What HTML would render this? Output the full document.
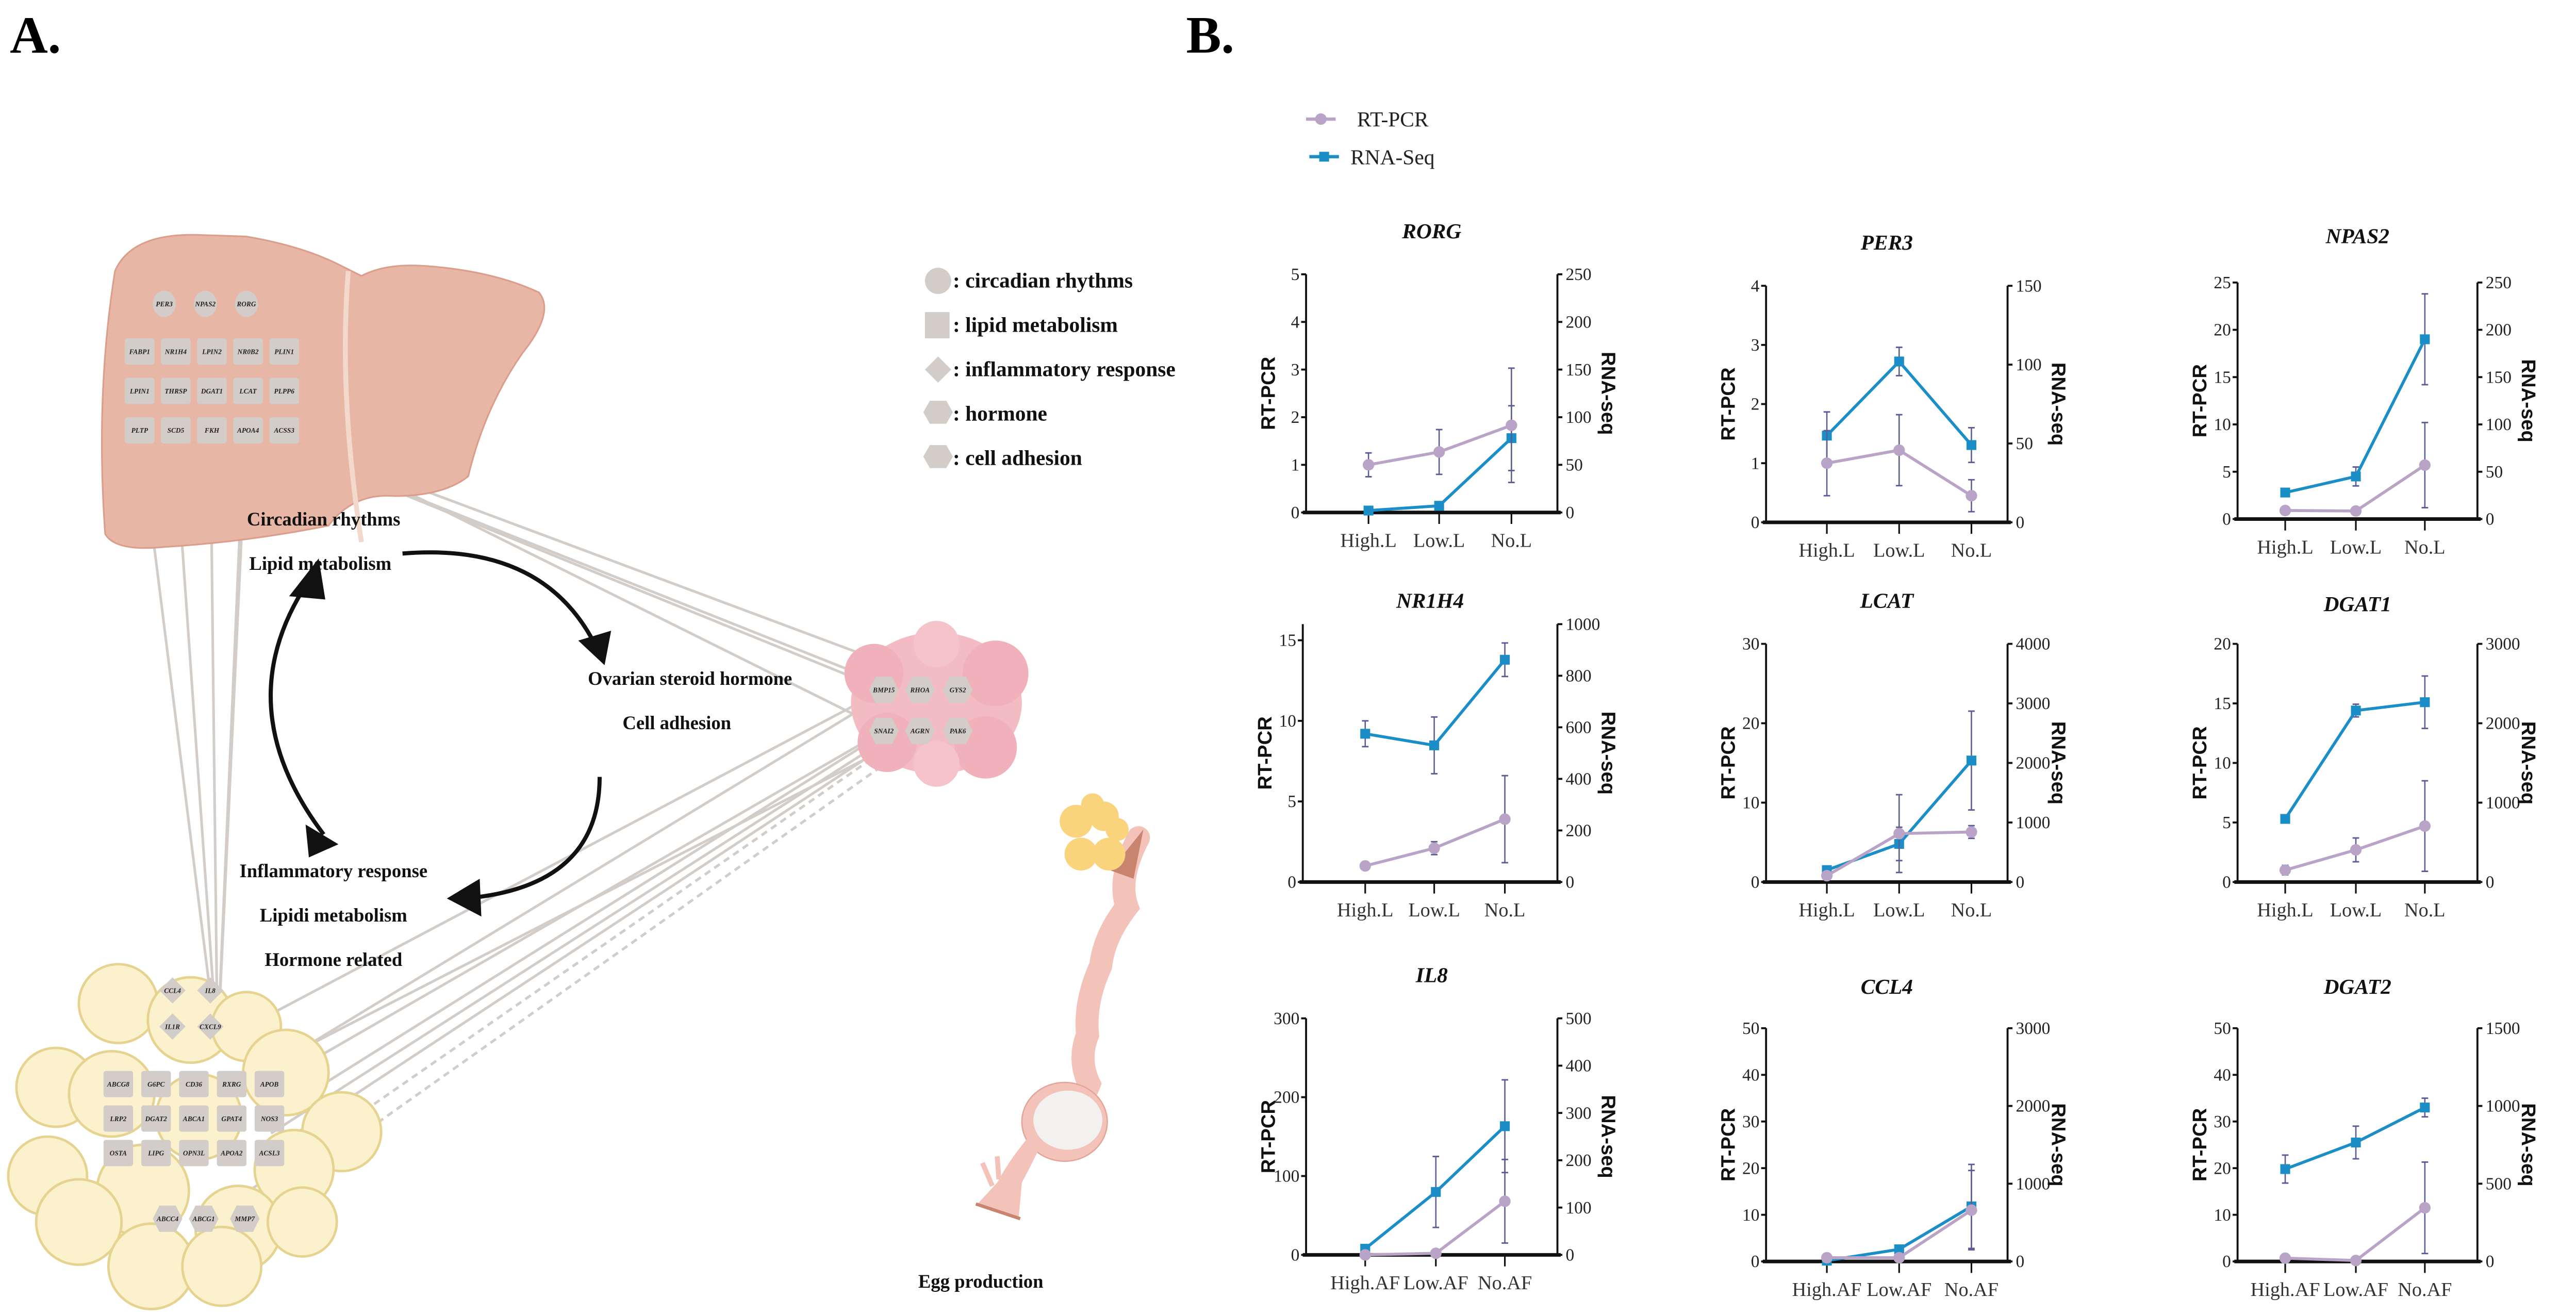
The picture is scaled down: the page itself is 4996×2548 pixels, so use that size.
<!DOCTYPE html>
<html><head><meta charset="utf-8">
<style>
html,body{margin:0;padding:0;background:#fff;}
svg{display:block;}
.tk{font-family:"Liberation Serif",serif;font-size:10.5px;fill:#222;}
.cat{font-family:"Liberation Serif",serif;font-size:12px;fill:#333;}
.ttl{font-family:"Liberation Serif",serif;font-size:13px;font-style:italic;font-weight:bold;fill:#111;}
.ax{font-family:"Liberation Sans",sans-serif;font-size:12px;font-weight:bold;fill:#111;}
.lab{font-family:"Liberation Serif",serif;font-size:11.5px;font-weight:bold;fill:#111;}
.leg{font-family:"Liberation Serif",serif;font-size:13px;font-weight:bold;fill:#111;}
.g{font-family:"Liberation Serif",serif;font-size:4.2px;font-style:italic;font-weight:bold;fill:#222;}
</style></head>
<body>
<svg id="fig" width="4996" height="2548" viewBox="0 0 1568 800" preserveAspectRatio="none" xmlns="http://www.w3.org/2000/svg">
<rect width="1568" height="800" fill="#fff"/>
<text x="6" y="32" font-family="Liberation Serif,serif" font-weight="bold" font-size="32">A.</text>
<text x="722" y="32" font-family="Liberation Serif,serif" font-weight="bold" font-size="32">B.</text>

<g id="panelA">
  <g id="links" stroke="#d3cdc9" stroke-width="1.6" fill="none"></g>
  <path d="M70,165 Q80,142 120,143 L150,144 Q185,150 208,162 L220,168 Q235,160 260,162 Q300,165 328,178 Q338,190 318,215 Q295,248 285,290 Q270,302 240,302 Q215,300 200,320 Q150,330 100,333 Q70,336 64,325 Q58,240 70,165 Z" fill="#e8b6a4" stroke="#dc9e8c" stroke-width="1"/>
  <path d="M212,165 Q206,240 220,330" stroke="#f3d9cc" stroke-width="3" fill="none"/>
  <g>
    <path d="M520,410 Q545,395 560,390 L540,415 Z" fill="#f4c9a8"/>
    <ellipse cx="570" cy="428" rx="52" ry="43" fill="#f3bcc3"/>
    <circle cx="532" cy="410" r="18" fill="#f1b1ba"/><circle cx="606" cy="410" r="20" fill="#f1b1ba"/>
    <circle cx="540" cy="452" r="18" fill="#f1b1ba"/><circle cx="600" cy="455" r="19" fill="#f1b1ba"/>
    <circle cx="570" cy="392" r="14" fill="#f5c4cb"/><circle cx="570" cy="465" r="14" fill="#f5c4cb"/>
  </g>
  <g id="fat"></g>
  <g>
    <path d="M693,510 Q680,535 686,552 Q672,570 670,588 Q660,610 662,630 Q656,645 663,660 Q660,668 655,672" fill="none" stroke="#f3c3b9" stroke-width="14" stroke-linecap="round"/>
    <polygon points="676,530 696,505 690,535" fill="#c98470"/>
    <ellipse cx="648" cy="683" rx="26" ry="24" fill="#f3c3b9" stroke="#e2a597" stroke-width="0.8"/>
    <ellipse cx="650" cy="682" rx="21" ry="18" fill="#f2f1ef"/>
    <path d="M628,690 Q615,705 607,720 L595,733 L620,742 L622,720 Q630,705 633,698 Z" fill="#f3c3b9"/>
    <line x1="594" y1="733" x2="621" y2="742" stroke="#c98470" stroke-width="2"/>
    <path d="M604,722 L598,708 M608,718 L607,704" stroke="#f3c3b9" stroke-width="3" fill="none"/>
    <g fill="#f9d47c">
      <circle cx="655" cy="500" r="10"/><circle cx="672" cy="497" r="9"/><circle cx="658" cy="520" r="10"/><circle cx="675" cy="520" r="10"/><circle cx="665" cy="490" r="7"/><circle cx="680" cy="505" r="7"/>
    </g>
  </g>
  <g id="genes"></g>
  <g fill="none" stroke="#111" stroke-width="2.5">
    <path d="M245,337 Q330,330 362,392"/>
    <path d="M365,473 Q365,540 283,547"/>
    <path d="M187,355 Q138,430 197,508"/>
  </g>
  <g fill="#111">
    <polygon points="352,390 372,384 368,405"/>
    <polygon points="272,547 292,535 293,558"/>
    <polygon points="176,363 194,340 198,365"/>
    <polygon points="186,502 206,514 188,522"/>
  </g>
  <text class="lab" x="197" y="320" text-anchor="middle">Circadian rhythms</text>
  <text class="lab" x="195" y="347" text-anchor="middle">Lipid metabolism</text>
  <text class="lab" x="420" y="417" text-anchor="middle">Ovarian steroid hormone</text>
  <text class="lab" x="412" y="444" text-anchor="middle">Cell adhesion</text>
  <text class="lab" x="203" y="534" text-anchor="middle">Inflammatory response</text>
  <text class="lab" x="203" y="561" text-anchor="middle">Lipidi metabolism</text>
  <text class="lab" x="203" y="588" text-anchor="middle">Hormone related</text>
  <text class="lab" x="597" y="784" text-anchor="middle">Egg production</text>
  <g fill="#d3cdc9">
    <circle cx="571" cy="171" r="8"/>
    <rect x="563" y="190" width="15" height="16"/>
    <polygon points="571,217 579,225 571,233 563,225"/>
    <polygon points="566,244 576,244 580,251 576,258 566,258 562,251"/>
    <polygon points="566,271 576,271 580,278 576,285 566,285 562,278"/>
  </g>
  <text class="leg" x="580" y="175">: circadian rhythms</text>
  <text class="leg" x="580" y="202">: lipid metabolism</text>
  <text class="leg" x="580" y="229">: inflammatory response</text>
  <text class="leg" x="580" y="256">: hormone</text>
  <text class="leg" x="580" y="283">: cell adhesion</text>
</g>

<g id="legendB">
  <line x1="795" y1="72.5" x2="813" y2="72.5" stroke="#b9a3c6" stroke-width="2"/>
  <circle cx="804" cy="72.5" r="3.5" fill="#b9a3c6"/>
  <text x="826" y="77" font-family="Liberation Serif,serif" font-size="13" fill="#222">RT-PCR</text>
  <line x1="797" y1="95.4" x2="815" y2="95.4" stroke="#1b8ec8" stroke-width="2"/>
  <rect x="803" y="92.4" width="6" height="6" fill="#1b8ec8"/>
  <text x="822" y="100" font-family="Liberation Serif,serif" font-size="13" fill="#222">RNA-Seq</text>
</g>
<g id="charts"></g>
</svg>
<script>
// ---------- Chart data ----------
const geneNames = ["RORG","PER3","NPAS2","NR1H4","LCAT","DGAT1","IL8","CCL4","DGAT2"];
const catsL = ["High.L","Low.L","No.L"];
const catsAF = ["High.AF","Low.AF","No.AF"];
const rtVals = [[1.0,1.27,1.83],[1.0,1.22,0.45],[0.9,0.85,5.7],[1.0,2.1,3.9],[0.8,6.1,6.3],[1.0,2.7,4.7],[0,2,68],[0.8,0.8,11],[0.7,0.2,11.5]];
const rtErr = [[0.25,0.47,1.2],[0.55,0.6,0.27],[0.3,0.3,4.5],[0.2,0.4,2.7],[0.3,4.9,0.8],[0.4,1.0,3.8],[0,0,53],[0,0,8.5],[0,0,9.8]];
const seqVals = [[2,7,78],[55,102,49],[28,45,190],[575,530,862],[200,640,2040],[795,2160,2265],[13,133,272],[10,156,708],[594,765,990]];
const seqErr = [[0,0,34],[15,9,11],[3,10,48],[50,110,65],[0,280,830],[0,80,330],[0,75,98],[0,0,540],[90,105,60]];
const leftTicks = [[0,1,2,3,4,5],[0,1,2,3,4],[0,5,10,15,20,25],[0,5,10,15],[0,10,20,30],[0,5,10,15,20],[0,100,200,300],[0,10,20,30,40,50],[0,10,20,30,40,50]];
const rightTicks = [[0,50,100,150,200,250],[0,50,100,150],[0,50,100,150,200,250],[0,200,400,600,800,1000],[0,1000,2000,3000,4000],[0,1000,2000,3000],[0,100,200,300,400,500],[0,1000,2000,3000],[0,500,1000,1500]];
const leftMax = [5,4,25,16,30,20,300,50,50];
const rightMax = [250,150,250,1000,4000,3000,500,3000,1500];

const geo = [
 {lx:795,rx:948,top:167,bot:312,cx:[833,876,920],ty:145},
 {lx:1075,rx:1222,top:174,bot:318,cx:[1112,1156,1200],ty:152},
 {lx:1362,rx:1508,top:172,bot:316,cx:[1391,1434,1476],ty:148},
 {lx:793,rx:948,top:380,bot:537,cx:[831,873,916],ty:370},
 {lx:1075,rx:1222,top:392,bot:537,cx:[1112,1156,1200],ty:370},
 {lx:1362,rx:1508,top:392,bot:537,cx:[1391,1434,1476],ty:372},
 {lx:795,rx:948,top:620,bot:764,cx:[831,874,916],ty:598},
 {lx:1075,rx:1222,top:626,bot:768,cx:[1112,1156,1200],ty:605},
 {lx:1362,rx:1508,top:626,bot:768,cx:[1391,1434,1476],ty:605}
];
const NS="http://www.w3.org/2000/svg";
function mk(tag,attrs,parent){const e=document.createElementNS(NS,tag);for(const k in attrs)e.setAttribute(k,attrs[k]);if(parent)parent.appendChild(e);return e;}
const charts=document.getElementById('charts');
geneNames.forEach((name,i)=>{
  const g=geo[i];
  const grp=mk('g',{},charts);
  
  
  const yL=v=>g.bot-(v/leftMax[i])*(g.bot-g.top);
  const yR=v=>g.bot-(v/rightMax[i])*(g.bot-g.top);
  const t=mk('text',{x:(g.lx+g.rx)/2,y:g.ty,'text-anchor':'middle',class:'ttl'},grp);t.textContent=name;
  
  
  const al=mk('line',{x1:g.lx,y1:g.top,x2:g.lx,y2:g.bot,stroke:'#111','stroke-width':1.2},grp);
  
  
  const ar=mk('line',{x1:g.rx,y1:g.top,x2:g.rx,y2:g.bot,stroke:'#111','stroke-width':1.2},grp);
  
  
  const ax=mk('line',{x1:g.lx-2,y1:g.bot,x2:g.rx+2,y2:g.bot,stroke:'#111','stroke-width':2.2},grp);
  
  
  leftTicks[i].forEach(v=>{const y=yL(v);mk('line',{x1:g.lx-3,y1:y,x2:g.lx,y2:y,stroke:'#111','stroke-width':1.2},grp);
    const tt=mk('text',{x:g.lx-4,y:y+3.5,'text-anchor':'end',class:'tk'},grp);tt.textContent=v;});
  rightTicks[i].forEach(v=>{const y=yR(v);mk('line',{x1:g.rx,y1:y,x2:g.rx+3,y2:y,stroke:'#111','stroke-width':1.2},grp);
    const tt=mk('text',{x:g.rx+5,y:y+3.5,'text-anchor':'start',class:'tk'},grp);tt.textContent=v;});
  const cats=i>=6?catsAF:catsL;
  cats.forEach((c,j)=>{mk('line',{x1:g.cx[j],y1:g.bot,x2:g.cx[j],y2:g.bot+7,stroke:'#111','stroke-width':1},grp);
    const ct=mk('text',{x:g.cx[j],y:g.bot+21,'text-anchor':'middle',class:'cat'},grp);ct.textContent=c;
    
    });
  const ym=(g.top+g.bot)/2;
  const l1=mk('text',{x:0,y:0,'text-anchor':'middle',class:'ax',transform:`translate(${g.lx-19},${ym}) rotate(-90)`},grp);l1.textContent='RT-PCR';
  
  
  const l2=mk('text',{x:0,y:0,'text-anchor':'middle',class:'ax',transform:`translate(${g.rx+27},${ym}) rotate(90)`},grp);l2.textContent='RNA-seq';
  
  
  const series=[{vals:seqVals[i],err:seqErr[i],f:yR,col:'#1b8ec8',sq:true,nm:'rna-seq'},{vals:rtVals[i],err:rtErr[i],f:yL,col:'#b9a3c6',sq:false,nm:'rt-pcr'}];
  series.forEach(s=>{
    const pts=s.vals.map((v,j)=>g.cx[j]+','+s.f(v)).join(' ');
    s.vals.forEach((v,j)=>{ if(s.err[j]>0){const x=g.cx[j],y1=s.f(v+s.err[j]),y2=s.f(Math.max(0,v-s.err[j]));
      mk('line',{x1:x,y1:y1,x2:x,y2:y2,stroke:'#5b5b95','stroke-width':0.8},grp);
      mk('line',{x1:x-2,y1:y1,x2:x+2,y2:y1,stroke:'#5b5b95','stroke-width':0.9},grp);
      mk('line',{x1:x-2,y1:y2,x2:x+2,y2:y2,stroke:'#5b5b95','stroke-width':0.9},grp);}});
    const pl=mk('polyline',{points:pts,fill:'none',stroke:s.col,'stroke-width':1.8},grp);
    
    
    s.vals.forEach((v,j)=>{const x=g.cx[j],y=s.f(v);let m;
      if(s.sq)m=mk('rect',{x:x-3,y:y-3,width:6,height:6,fill:s.col},grp);
      else m=mk('circle',{cx:x,cy:y,r:3.5,fill:s.col},grp);
      
      });
  });
});

// ---------- Panel A decorative nodes ----------
const fat=document.getElementById('fat');
const cells=[[72,611,24],[116,621,26],[150,625,21],[174,653,26],[34,662,24],[68,666,26],[121,680,26],[208,689,24],[29,716,24],[179,712,24],[87,725,28],[48,744,26],[145,748,26],[92,771,26],[135,771,24],[184,744,21]];
cells.forEach(c=>{mk('circle',{cx:c[0],cy:c[1],r:c[2],fill:'#fbf1cc',stroke:'#e6d38f','stroke-width':1.5},fat);});
const genes=document.getElementById('genes');
const links=document.getElementById('links');
function node(type,x,y,label){const grp=mk('g',{},genes);
  
  
  if(type==='c')mk('ellipse',{cx:x,cy:y,rx:7,ry:8,fill:'#d3cdc9'},grp);
  else if(type==='s')mk('rect',{x:x-9,y:y-8,width:18,height:16,rx:1.5,fill:'#d3cdc9'},grp);
  else if(type==='d')mk('polygon',{points:`${x},${y-8} ${x+8},${y} ${x},${y+8} ${x-8},${y}`,fill:'#d3cdc9'},grp);
  else mk('polygon',{points:`${x-5},${y-8} ${x+5},${y-8} ${x+9},${y} ${x+5},${y+8} ${x-5},${y+8} ${x-9},${y}`,fill:'#d3cdc9'},grp);
  const t=mk('text',{x:x,y:y+1.5,'text-anchor':'middle',class:'g'},grp);t.textContent=label;}
node('c',100,185,'PER3');node('c',125,185,'NPAS2');node('c',150,185,'RORG');
[['FABP1','NR1H4','LPIN2','NR0B2','PLIN1'],['LPIN1','THRSP','DGAT1','LCAT','PLPP6'],['PLTP','SCD5','FKH','APOA4','ACSS3']].forEach((r,ri)=>r.forEach((n,ci)=>node('s',85+ci*22,214+ri*24,n)));
node('h',538,420,'BMP15');node('h',560,420,'RHOA');node('h',583,420,'GYS2');node('h',538,445,'SNAI2');node('h',560,445,'AGRN');node('h',583,445,'PAK6');
node('d',105,603,'CCL4');node('d',128,603,'IL8');node('d',105,625,'IL1R');node('d',128,625,'CXCL9');
[['ABCG8','G6PC','CD36','RXRG','APOB'],['LRP2','DGAT2','ABCA1','GPAT4','NOS3'],['OSTA','LIPG','OPN3L','APOA2','ACSL3']].forEach((r,ri)=>r.forEach((n,ci)=>node('s',72+ci*23,660+ri*21,n)));
node('h',102,742,'ABCC4');node('h',124,742,'ABCG1');node('h',149,742,'MMP7');
const L=[[85,262,128,605],[106,262,130,605],[128,262,132,605],[150,262,134,605],[150,230,134,600],[150,262,538,420],[150,262,560,425],[160,262,583,420],[172,262,540,445],
 [165,660,538,445],[165,680,540,445],[165,700,545,450],[142,660,560,445],[160,620,538,420],[165,650,535,425],[165,690,555,440],[150,740,560,450],[130,740,545,452]];
L.forEach((l,k)=>{const e=mk('line',{x1:l[0],y1:l[1],x2:l[2],y2:l[3]},links);if(k>=16)e.setAttribute('stroke-dasharray','4,3');});
</script>
</body></html>
